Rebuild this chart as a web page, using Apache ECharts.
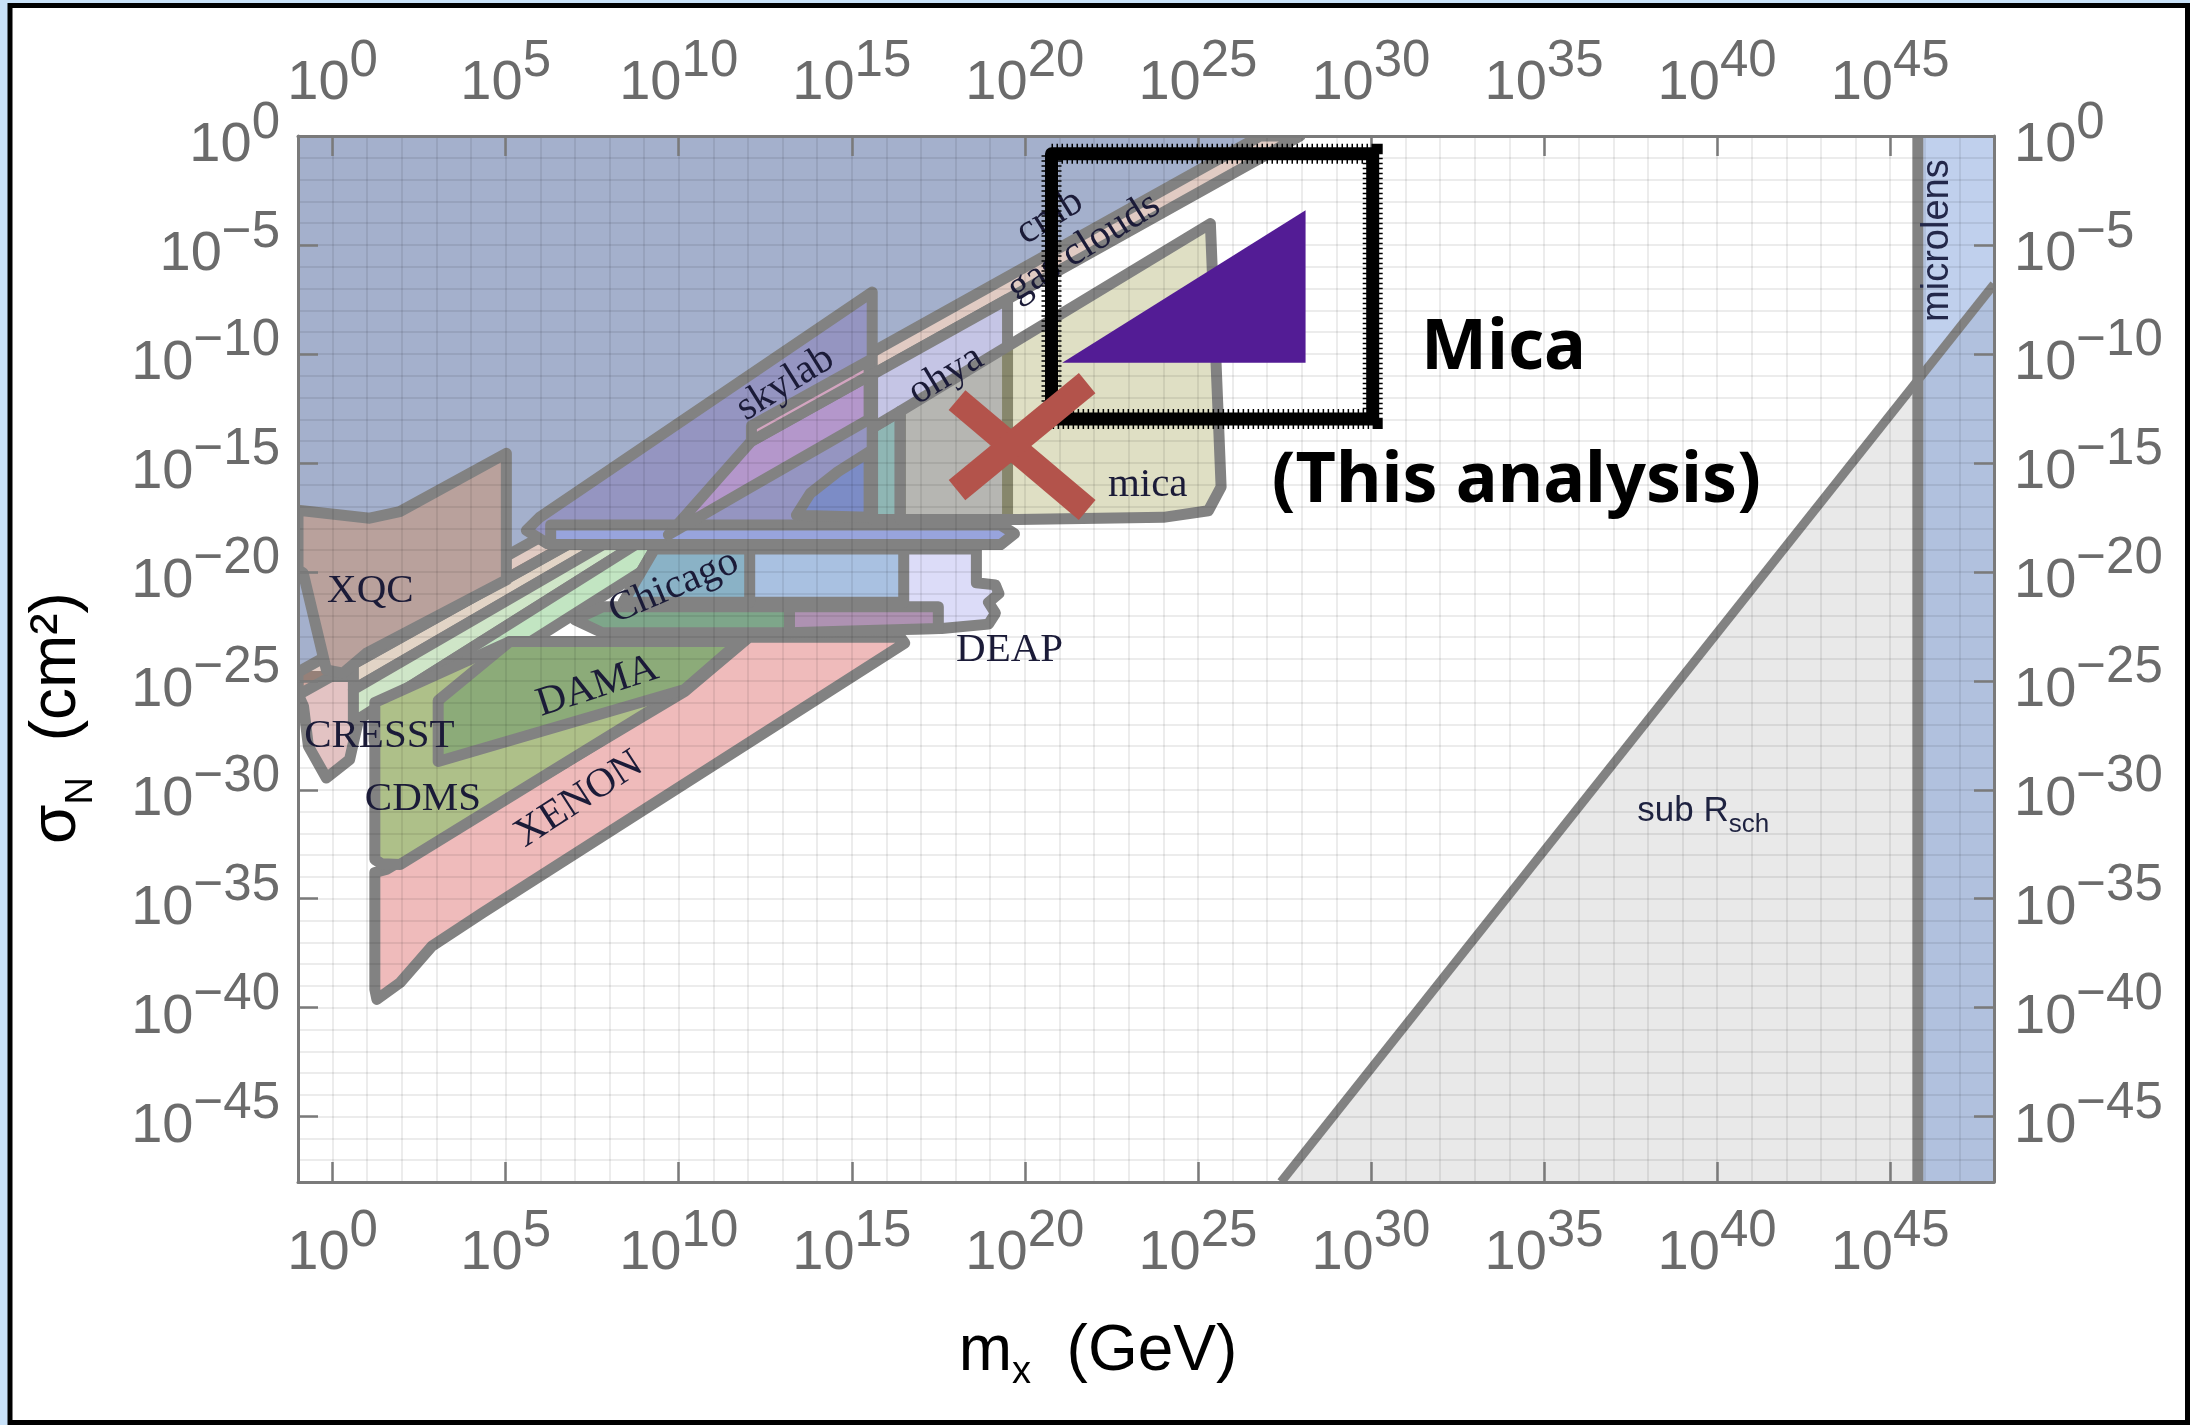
<!DOCTYPE html>
<html><head><meta charset="utf-8">
<script src="https://cdn.jsdelivr.net/npm/echarts@6/dist/echarts.min.js"></script>
<style>html,body{margin:0;padding:0;background:#c8e1f8;}#c{width:2190px;height:1425px;}</style>
</head><body><div id="c"></div>
<script>
// ---- axis ticks (log10 exponents) ----
const xTicks = [0,5,10,15,20,25,30,35,40,45];
const yTicks = [0,-5,-10,-15,-20,-25,-30,-35,-40,-45];

// ---- regions: [log10 m (GeV), log10 sigma (cm^2)] ----
const blueBg = [[-1,0],[26.8,0],[-1,-24.6]];
const subRsch = [[27.4,-48],[48,-48],[48,-6.8]];
const subRschEdge = [[27.4,-48],[48,-6.8]];
const microlens = [[45.8,0],[48,0],[48,-48],[45.8,-48]];
const microlensEdge = [[45.8,0],[45.8,-48]];
const cresst = [[-1,-24.8],[1.3,-24.8],[1.3,-26.2],[0.75,-26.79],[0.49,-28.62],[-0.18,-29.46],[-0.7,-28.0],[-0.84,-26.18],[-1,-25.6]];
const bandE1 = [[0.6,-24.23],[9.6,-16.26],[9.6,-17.1],[0.6,-25.4]];
const bandE2 = [[0.6,-25.4],[9.6,-17.1],[9.6,-17.9],[0.6,-26.9]];
const bandG = [[1.2,-26.3],[9.6,-17.9],[11.0,-17.9],[1.2,-27.75]];
const xenon = [[1.22,-33.8],[1.22,-39.16],[1.28,-39.62],[1.95,-38.85],[2.87,-37.18],[4.33,-35.65],[16.53,-23.27],[16.4,-23.0],[12.03,-23.0],[10.17,-25.49],[1.55,-33.66]];
const cdms = [[1.22,-26.0],[5.12,-23.2],[11.76,-23.2],[10.17,-25.4],[1.95,-33.43],[1.42,-33.4],[1.22,-33.2]];
const dama = [[3.05,-25.9],[5.12,-23.2],[11.76,-23.2],[10.17,-25.4],[3.05,-28.7]];
const deap = [[12.0,-18.95],[18.6,-18.95],[18.6,-20.5],[19.15,-20.6],[19.25,-21.0],[18.95,-21.4],[19.15,-21.9],[18.95,-22.4],[17.6,-22.6],[12.0,-22.7]];
const stripTeal = [[7.0,-22.2],[7.8,-21.6],[13.2,-21.6],[13.2,-22.8],[7.8,-22.8]];
const stripMauve = [[13.2,-21.6],[17.5,-21.6],[17.5,-22.6],[13.2,-22.8]];
const chicago = [[9.3,-18.95],[16.5,-18.95],[16.5,-21.4],[8.4,-21.4]];
const chicagoTeal = [[9.3,-18.95],[12.05,-18.95],[12.05,-21.4],[8.4,-21.4]];
const cmbGasBand = [[-1,-24.6],[26.8,0],[27.95,0],[-1,-25.65]];
const xqc = [[-1,-17.17],[1.07,-17.54],[1.94,-17.24],[5.02,-14.56],[5.02,-20.37],[0.98,-23.73],[0.3,-24.65],[-0.18,-24.5],[-0.85,-20.06],[-1,-19.9]];
const skylab = [[5.6,-18.1],[5.98,-17.5],[15.59,-7.16],[15.59,-17.4],[15.2,-18.4],[12.0,-18.3],[8.0,-18.6],[6.2,-18.7]];
const lensH = [[6.3,-17.85],[19.3,-17.85],[19.7,-18.25],[19.3,-18.75],[6.3,-18.75]];
const bandV = [[9.7,-18.3],[12.1,-16.1],[15.5,-13.0],[15.5,-11.0],[12.1,-14.0]];
const bandP = [[12.1,-13.3],[15.5,-10.3],[15.5,-11.0],[12.1,-14.0]];
const lensL = [[13.4,-17.4],[13.8,-16.4],[14.6,-15.4],[15.5,-14.5],[15.5,-17.5]];
const tealT = [[15.6,-13.39],[16.4,-12.63],[16.4,-17.6],[15.6,-17.6]];
const ohya = [[15.6,-10.94],[19.5,-7.49],[19.5,-17.6],[16.4,-17.6],[16.4,-12.63],[15.6,-13.39]];
const mica = [[16.4,-12.63],[25.36,-4.02],[25.67,-16.1],[25.3,-17.2],[24.0,-17.5],[19.8,-17.6],[16.4,-17.6]];
const micaTriangle = [[21.08,-10.41],[28.11,-10.41],[28.11,-3.41]];
const micaBox = [[20.77,-0.82],[30.05,-0.82],[30.05,-12.99],[20.77,-12.99]];
const crossArm1 = [[18.04,-12.12],[21.8,-17.16]];
const crossArm2 = [[18.04,-16.25],[21.8,-11.34]];

// ---- labels ----
const regionLabelText = ['XQC','CRESST','CDMS','DAMA','XENON','Chicago','skylab','ohya','mica','DEAP','cmb','gas clouds'];
const regionLabelPos = [[1.09,-20.9],[1.35,-27.55],[2.61,-30.45],[7.65,-25.26],[7.12,-30.45],[9.86,-20.68],[13.08,-11.36],[17.72,-10.98],[23.55,-16.02],[19.56,-23.58],[20.72,-3.72],[21.7,-5.1]];
const regionLabelAngle = [0,0,0,18,33,23,32,31,0,0,32,32];
const annotText = ['Mica','(This analysis)'];
const annotPos = [[33.83,-9.8],[34.2,-15.88]];
const sideLabelPos = [[39.6,-31.18],[46.37,-4.8]];

const FONT = '"Liberation Sans", Arial, Helvetica, sans-serif';
const SERIF = '"Liberation Serif", "Times New Roman", serif';
const STROKE = '#828282';
const LW = 11;

const series = [];
function addPoly(pts, fill, stroke, lw, z, dash) {
  series.push({type:'custom', coordinateSystem:'cartesian2d', clip:true, silent:true, animation:false, z: z||2,
    data: pts, encode:{x:0,y:1},
    renderItem: function(params, api){
      if (params.dataIndex !== 0) return null;
      const p = pts.map(d => api.coord(d));
      return {type:'polygon', shape:{points:p}, style:{fill: fill, stroke: stroke||null, lineWidth: lw||0, lineJoin: dash ? 'miter' : 'round', lineDash: dash||null}};
    }});
}
function addLine(pts, color, lw, z, cap) {
  series.push({type:'custom', coordinateSystem:'cartesian2d', clip:true, silent:true, animation:false, z: z||2,
    data: pts, encode:{x:0,y:1},
    renderItem: function(params, api){
      if (params.dataIndex !== 0) return null;
      const p = pts.map(d => api.coord(d));
      return {type:'polyline', shape:{points:p}, style:{fill:null, stroke: color, lineWidth: lw, lineCap: cap||'butt', lineJoin:'miter'}};
    }});
}

addPoly(blueBg, '#a4b0cc');
addPoly(subRsch, '#e9e9e9');
addPoly(microlens, 'rgba(60,110,200,0.32)');
addLine(subRschEdge, STROKE, 9);
addLine(microlensEdge, STROKE, 11);
addPoly(cresst, '#e3c3c3', STROKE, LW);
addPoly(bandE1, '#e2d4c6', STROKE, LW);
addPoly(bandE2, '#cfe6c8', STROKE, LW);
addPoly(bandG, '#c2e5c2', STROKE, LW);
addPoly(xenon, '#efbbbb', STROKE, LW);
addPoly(cdms, '#aec089', STROKE, LW);
addPoly(dama, '#8cab79', STROKE, LW);
addPoly(deap, '#dcdcf8', STROKE, LW);
addPoly(stripTeal, '#7ea68a', STROKE, LW);
addPoly(stripMauve, '#ae92b2', STROKE, LW);
addPoly(chicago, '#a9c1e1', STROKE, LW);
addPoly(chicagoTeal, '#8ab2c6', STROKE, LW);
addPoly(cmbGasBand, 'rgba(180,125,105,0.4)', STROKE, LW);
addPoly(xqc, '#b9a19c', STROKE, LW);
addPoly(skylab, '#9595c1', STROKE, LW);
addPoly(lensH, '#98a4dc', STROKE, LW);
addPoly(bandV, '#b497cb', STROKE, LW);
addPoly(bandP, '#d3a5c0', STROKE, LW);
addPoly(lensL, '#7c8cc6', STROKE, LW);
addPoly(tealT, '#8fb6b4', STROKE, LW);
addPoly(ohya, '#c5c5e5', STROKE, LW);
addPoly(mica, 'rgba(150,150,60,0.3)', STROKE, LW);
addPoly(micaTriangle, '#531c95', null, 0, 20);

// region labels
series.push({type:'custom', coordinateSystem:'cartesian2d', clip:false, silent:true, animation:false, z:20,
  data: regionLabelPos, encode:{x:0,y:1},
  renderItem: function(params, api){
    const i = params.dataIndex;
    const c = api.coord(regionLabelPos[i]);
    return {type:'text', x:c[0], y:c[1], rotation: regionLabelAngle[i]*Math.PI/180,
      style:{text: regionLabelText[i], fontSize:41, fontFamily: SERIF, fill:'#1b1b38', align:'center', verticalAlign:'middle'}};
  }});
// annotation text
series.push({type:'custom', coordinateSystem:'cartesian2d', clip:false, silent:true, animation:false, z:20,
  data: annotPos, encode:{x:0,y:1},
  renderItem: function(params, api){
    const i = params.dataIndex;
    const c = api.coord(annotPos[i]);
    return {type:'text', x:c[0], y:c[1],
      style:{text: annotText[i], fontSize:70, fontWeight:'bold', fontFamily:'"Noto Sans", Lato, sans-serif', fill:'#000', align:'center', verticalAlign:'middle'}};
  }});
// sub R_sch and microlens labels
series.push({type:'custom', coordinateSystem:'cartesian2d', clip:false, silent:true, animation:false, z:20,
  data: sideLabelPos, encode:{x:0,y:1},
  renderItem: function(params, api){
    const i = params.dataIndex;
    const c = api.coord(sideLabelPos[i]);
    if (i === 0) {
      return {type:'text', x:c[0], y:c[1], style:{text:'{a|sub R}{s|sch}', align:'center', verticalAlign:'middle',
        rich:{a:{fontSize:35, fontFamily:FONT, fill:'#1e2240', lineHeight:44, verticalAlign:'top'},
              s:{fontSize:26, fontFamily:FONT, fill:'#1e2240', lineHeight:44, verticalAlign:'bottom'}}}};
    }
    return {type:'text', x:c[0], y:c[1], rotation: Math.PI/2,
      style:{text:'microlens', fontSize:38, fontFamily:FONT, fill:'#23284a', align:'center', verticalAlign:'middle'}};
  }});
// hand-drawn looking box: solid core + dashed fringe
addPoly(micaBox, 'transparent', '#000', 13, 24);
addPoly(micaBox, 'transparent', '#000', 20, 24, [1.5,3.5]);
addLine(crossArm1, '#b3534b', 26, 26);
addLine(crossArm2, '#b3534b', 26, 26);

function tickFmt(v){ const e = v < 0 ? '\u2212' + (-v) : String(v); return '{b|10}{s|' + e + '}'; }
const tickRich = {
  b:{fontSize:56, fontFamily:FONT, color:'#6b6b6b', lineHeight:76, verticalAlign:'bottom'},
  s:{fontSize:51, fontFamily:FONT, color:'#6b6b6b', lineHeight:76, verticalAlign:'top'}
};
function axisCfg(isX, pos, margin){
  const ticks = isX ? xTicks : yTicks;
  return {type:'value', position:pos, min: isX ? -1 : -48, max: isX ? 48 : 0, interval:1, z:10,
    axisLine:{show:true, onZero:false, lineStyle:{color:'#7a7a7a', width:3}},
    axisTick:{show:true, inside:true, length:20, customValues:ticks, lineStyle:{color:'#7a7a7a', width:2.5}},
    axisLabel:{show:true, customValues:ticks, margin:margin, formatter:tickFmt, rich:tickRich},
    splitLine:{show:false}
  };
}
function gridAxis(isX){
  return {type:'value', position: isX ? 'bottom' : 'left', min: isX ? -1 : -48, max: isX ? 48 : 0, interval:1, z:9,
    axisLine:{show:false, onZero:false}, axisTick:{show:false}, axisLabel:{show:false},
    splitLine:{show:true, lineStyle:{color:'rgba(0,0,0,0.1)', width:1.5}}};
}

const chart = echarts.init(document.getElementById('c'), null, {renderer:'canvas'});
chart.setOption({
  backgroundColor:'#c8e1f8',
  animation:false,
  grid:{left:298, right:196, top:136, bottom:243, containLabel:false},
  xAxis:[axisCfg(true,'bottom',24), axisCfg(true,'top',24), gridAxis(true)],
  yAxis:[axisCfg(false,'left',18), axisCfg(false,'right',20), gridAxis(false)],
  graphic:[
    {type:'rect', z:-5, shape:{x:10, y:5.5, width:2177.5, height:1417}, style:{fill:'#fff', stroke:'#000', lineWidth:5}},
    {type:'text', z:30, x:1098, y:1356, style:{text:'{a|m}{s|x}{a|  (GeV)}', align:'center', verticalAlign:'middle',
      rich:{a:{fontSize:64, fontFamily:FONT, fill:'#000', lineHeight:72, verticalAlign:'top'},
            s:{fontSize:38, fontFamily:FONT, fill:'#000', lineHeight:72, verticalAlign:'bottom'}}}},
    {type:'text', z:30, x:63, y:718, rotation:Math.PI/2, style:{text:'{a|σ}{s|N}{a|  (cm²)}', align:'center', verticalAlign:'middle',
      rich:{a:{fontSize:64, fontFamily:FONT, fill:'#000', lineHeight:76, verticalAlign:'top'},
            s:{fontSize:38, fontFamily:FONT, fill:'#000', lineHeight:76, verticalAlign:'bottom'}}}}
  ],
  series: series
});
</script>
</body></html>
